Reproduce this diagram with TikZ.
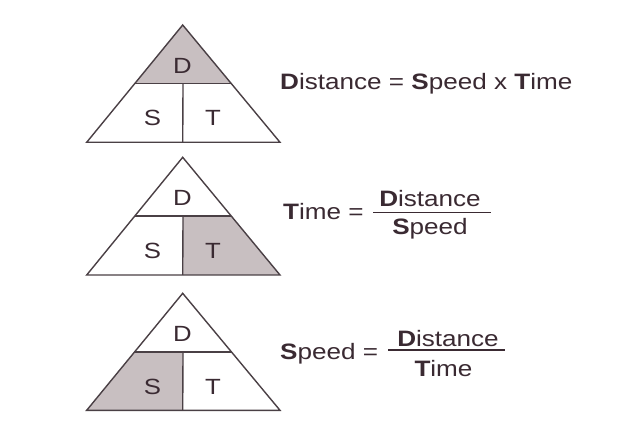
\documentclass[tikz,border=0pt]{standalone}
\usepackage{fontspec}
\setmainfont{Liberation Sans}
\definecolor{txt}{HTML}{3A2A32}
\definecolor{ln}{HTML}{4A4045}
\definecolor{fillg}{HTML}{C8BFC1}
\newcommand{\sx}[1]{\scalebox{1.17}[1]{#1}}
\usetikzlibrary{calc}
\begin{document}
\begin{tikzpicture}[x=1pt,y=-1pt,
  tri/.style={draw=ln, line width=1.4pt, line join=miter},
  lbl/.style={text=txt, font=\fontsize{22}{24}\selectfont, inner sep=0pt},
  eq/.style={text=txt, font=\fontsize{22.3}{24}\selectfont, inner sep=0pt, anchor=base west},
  fr/.style={text=txt, font=\fontsize{22.3}{24}\selectfont, inner sep=0pt, anchor=base},
  fbar/.style={draw=txt, line width=1.5pt}]
\useasboundingbox[fill=white] (0,0) rectangle (639,435);

% triangle coordinates
\foreach \i/\ya/\yb in {1/25/142.3, 2/157.3/275, 3/293.3/410.3}{
  \coordinate (A\i) at (182.7,\ya);
  \coordinate (L\i) at (86.7,\yb);
  \coordinate (R\i) at (280,\yb);
  \coordinate (B\i) at (182.7,\yb);
  \coordinate (ML\i) at ($(A\i)!0.5!(L\i)$);
  \coordinate (MR\i) at ($(A\i)!0.5!(R\i)$);
  \coordinate (C\i) at ($(ML\i)!0.5!(MR\i)$);
}

% fills
\fill[fillg] (A1) -- (ML1) -- (MR1) -- cycle;
\fill[fillg] (C2) -- (MR2) -- (R2) -- (B2) -- cycle;
\fill[fillg] (ML3) -- (C3) -- (B3) -- (L3) -- cycle;

% outlines
\foreach \i in {1,2,3}{
  \draw[tri] (A\i) -- (L\i) -- (R\i) -- cycle;
  \draw[tri] (ML\i) -- (MR\i);
  \draw[tri] (C\i) -- (B\i);
}

% labels
\node[lbl] (d1) at (182.5,65.5) {\sx{D}};
\node[lbl] (s1) at (152.5,118.3) {\sx{S}};
\node[lbl] (t1) at (213,118.3) {\sx{T}};
\node[lbl] (d2) at (182.5,197.8) {\sx{D}};
\node[lbl] (s2) at (152.5,250.6) {\sx{S}};
\node[lbl] (t2) at (213,250.6) {\sx{T}};
\node[lbl] (d3) at (182.5,333.8) {\sx{D}};
\node[lbl] (s3) at (152.5,386.6) {\sx{S}};
\node[lbl] (t3) at (213,386.6) {\sx{T}};

% equation 1
\node[eq] (e1) at (280,90) {\sx{\textbf{D}istance = \textbf{S}peed x \textbf{T}ime}};

% equation 2
\node[eq] (e2) at (283,220) {\sx{\textbf{T}ime =}};
\coordinate (b2l) at (373,212.3);
\coordinate (b2r) at (490.7,212.3);
\draw[fbar] (b2l) -- (b2r);
\node[fr] (n2) at (430,206.7) {\sx{\textbf{D}istance}};
\node[fr] (m2) at (430,235) {\sx{\textbf{S}peed}};

% equation 3
\node[eq] (e3) at (280,359.5) {\sx{\textbf{S}peed =}};
\coordinate (b3l) at (388,350);
\coordinate (b3r) at (505,350);
\draw[fbar] (b3l) -- (b3r);
\node[fr] (n3) at (448,346) {\sx{\textbf{D}istance}};
\node[fr] (m3) at (443.5,376.7) {\sx{\textbf{T}ime}};
\end{tikzpicture}
\end{document}
